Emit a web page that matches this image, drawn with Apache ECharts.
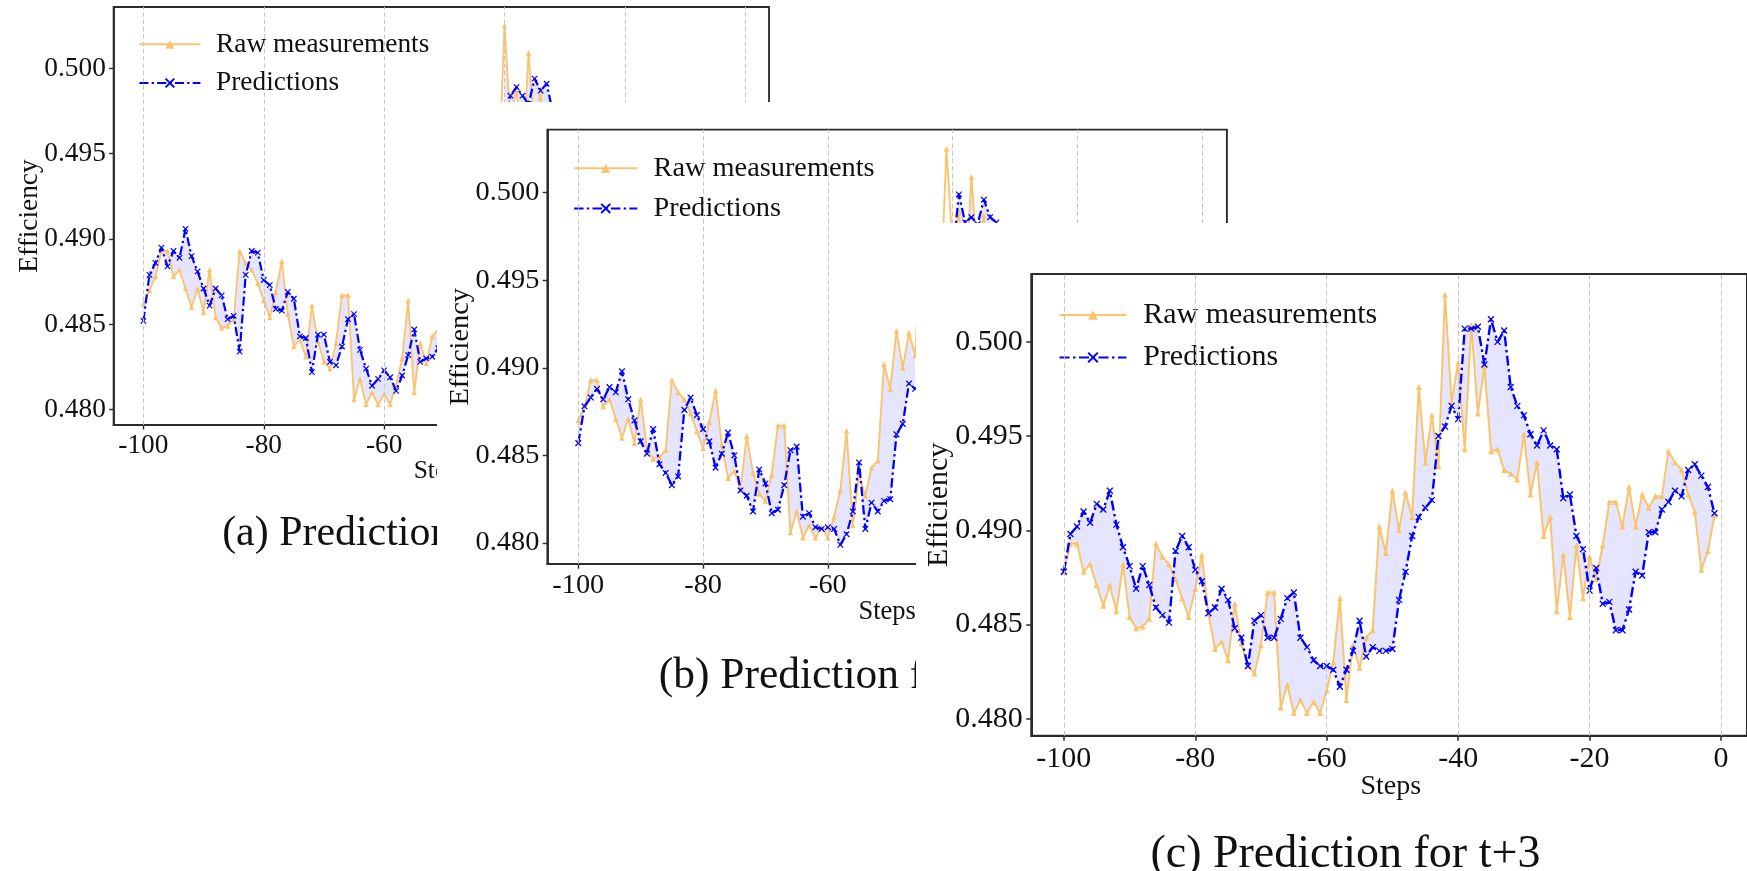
<!DOCTYPE html>
<html>
<head>
<meta charset="utf-8">
<script src="https://cdn.jsdelivr.net/npm/echarts@6/dist/echarts.min.js"></script>
<style>
  html, body { margin: 0; padding: 0; background: #fff; }
  body { width: 1747px; height: 871px; position: relative; overflow: hidden; }
  .panel { position: absolute; background: #fff; }
</style>
</head>
<body>
<div id="pa" class="panel" style="left:0;top:0;width:1747px;height:871px"></div>
<div id="pb" class="panel" style="left:437px;top:102px;width:1310px;height:769px"></div>
<div id="pc" class="panel" style="left:916px;top:223px;width:831px;height:648px"></div>
<script>
// x positions (steps before now)
const steps = [-100, -99, -98, -97, -96, -95, -94, -93, -92, -91, -90, -89, -88, -87, -86, -85, -84, -83, -82, -81,
  -80, -79, -78, -77, -76, -75, -74, -73, -72, -71, -70, -69, -68, -67, -66, -65, -64, -63, -62, -61,
  -60, -59, -58, -57, -56, -55, -54, -53, -52, -51, -50, -49, -48, -47, -46, -45, -44, -43, -42, -41,
  -40, -39, -38, -37, -36, -35, -34, -33, -32, -31, -30, -29, -28, -27, -26, -25, -24, -23, -22, -21,
  -20, -19, -18, -17, -16, -15, -14, -13, -12, -11, -10, -9, -8, -7, -6, -5, -4, -3, -2, -1];
const xTicks = [-100, -80, -60, -40, -20, 0];
const yTicks = [0.480, 0.485, 0.490, 0.495, 0.500];

// raw series, two steps longer: panel a shows [0..99], b [1..100], c [2..101]
const rawMeasurements = [0.4862, 0.4870,
  0.4878, 0.4893, 0.4893, 0.4878, 0.4882, 0.4871, 0.4860, 0.4871, 0.4857, 0.4882,
  0.4854, 0.4848, 0.4849, 0.4853, 0.4893, 0.4886, 0.4882, 0.4874, 0.4864, 0.4854,
  0.4869, 0.4887, 0.4856, 0.4837, 0.4841, 0.4831, 0.4861, 0.4840, 0.4828, 0.4824,
  0.4839, 0.4867, 0.4867, 0.4806, 0.4818, 0.4803, 0.4810, 0.4803, 0.4809, 0.4803,
  0.4815, 0.4830, 0.4864, 0.4810, 0.4839, 0.4827, 0.4843, 0.4847, 0.4902, 0.4888,
  0.4921, 0.4900, 0.4920, 0.4907, 0.4976, 0.4936, 0.4961, 0.4934, 0.5025, 0.4968,
  0.4989, 0.4943, 0.5009, 0.4962, 0.4987, 0.4942, 0.4943, 0.4932, 0.4930, 0.4927,
  0.4951, 0.4919, 0.4936, 0.4897, 0.4907, 0.4857, 0.4887, 0.4854, 0.4892, 0.4864,
  0.4886, 0.4874, 0.4892, 0.4915, 0.4915, 0.4902, 0.4923, 0.4902, 0.4919, 0.4912,
  0.4918, 0.4918, 0.4942, 0.4936, 0.4932, 0.4919, 0.4910, 0.4879, 0.4889, 0.4908];

// predictions; null where the panel is hidden under the next one
const predT1 = [0.4852, 0.4879, 0.4886, 0.4895, 0.4884, 0.4893, 0.4889, 0.4906, 0.4890, 0.4881,
  0.4871, 0.4861, 0.4871, 0.4867, 0.4853, 0.4855, 0.4834, 0.4879, 0.4893, 0.4892,
  0.4876, 0.4873, 0.4859, 0.4858, 0.4869, 0.4865, 0.4843, 0.4842, 0.4822, 0.4844,
  0.4844, 0.4828, 0.4826, 0.4837, 0.4853, 0.4856, 0.4835, 0.4824, 0.4814, 0.4818,
  0.4823, 0.4819, 0.4811, 0.4820, 0.4832, 0.4847, 0.4828, 0.4830, 0.4831, 0.4836,
  null, null, null, null, null, null, null, null, null, null,
  0.4965, 0.4984, 0.4989, 0.4984, 0.4979, 0.4994, 0.4987, 0.4991, 0.4975, null,
  null, null, null, null, null, null, null, null, null, null,
  null, null, null, null, null, null, null, null, null, null,
  null, null, null, null, null, null, null, null, null, null];
const predT2 = [0.4857, 0.4878, 0.4883, 0.4888, 0.4882, 0.4889, 0.4886, 0.4898, 0.4882, 0.4870,
  0.4858, 0.4851, 0.4865, 0.4845, 0.4840, 0.4833, 0.4838, 0.4876, 0.4883, 0.4873,
  0.4865, 0.4858, 0.4843, 0.4851, 0.4863, 0.4850, 0.4830, 0.4827, 0.4818, 0.4842,
  0.4834, 0.4817, 0.4819, 0.4833, 0.4853, 0.4855, 0.4815, 0.4817, 0.4809, 0.4808,
  0.4809, 0.4808, 0.4799, 0.4805, 0.4818, 0.4846, 0.4808, 0.4823, 0.4818, 0.4824,
  0.4825, 0.4862, 0.4868, 0.4891, 0.4888, null, null, null, null, null,
  0.4965, 0.4999, 0.4983, 0.4986, 0.4982, 0.4996, 0.4986, 0.4983, 0.4970, null,
  null, null, null, null, null, null, null, null, null, null,
  null, null, null, null, null, null, null, null, null, null,
  null, null, null, null, null, null, null, null, null, null];
const predT3 = [0.4878, 0.4898, 0.4902, 0.4910, 0.4904, 0.4914, 0.4911, 0.4921, 0.4903, 0.4891,
  0.4881, 0.4869, 0.4881, 0.4871, 0.4859, 0.4855, 0.4851, 0.4889, 0.4897, 0.4891,
  0.4879, 0.4873, 0.4856, 0.4859, 0.4869, 0.4863, 0.4848, 0.4843, 0.4828, 0.4852,
  0.4855, 0.4843, 0.4843, 0.4853, 0.4864, 0.4867, 0.4843, 0.4838, 0.4831, 0.4828,
  0.4828, 0.4826, 0.4817, 0.4826, 0.4836, 0.4852, 0.4833, 0.4838, 0.4836, 0.4836,
  0.4837, 0.4863, 0.4878, 0.4897, 0.4907, 0.4912, 0.4916, 0.4950, 0.4955, 0.4966,
  0.4959, 0.5007, 0.5007, 0.5008, 0.4988, 0.5012, 0.5000, 0.5006, 0.4976, 0.4966,
  0.4961, 0.4951, 0.4945, 0.4953, 0.4945, 0.4943, 0.4917, 0.4919, 0.4897, 0.4890,
  0.4868, 0.4880, 0.4861, 0.4862, 0.4847, 0.4847, 0.4858, 0.4878, 0.4876, 0.4899,
  0.4899, 0.4911, 0.4915, 0.4921, 0.4918, 0.4932, 0.4935, 0.4929, 0.4923, 0.4909];

const ORANGE = '#f9c46c';
const BLUE = '#0000ff';
const FILL = 'rgba(0,0,255,0.1)';
const SPINE = '#2b2b2b';
const GRIDC = '#c6c6c6';
const FONT = '"Liberation Serif", "DejaVu Serif", serif';
const X_MIN = -104.95, X_MAX = 3.95;

// absolute page coordinates of each panel and its axes box
const panels = [
  { id: 'pa', div: [0, 0], axes: [113.6, 7, 655.4, 418], k: 0.911, yMin: 0.4791, yMax: 0.5036,
    raw: rawMeasurements.slice(0, 100), pred: predT1, caption: '(a) Prediction for t+1' },
  { id: 'pb', div: [437, 102], axes: [547.4, 129.6, 679.5, 434.4], k: 0.945, yMin: 0.4788, yMax: 0.5036,
    raw: rawMeasurements.slice(1, 101), pred: predT2, caption: '(b) Prediction for t+2' },
  { id: 'pc', div: [916, 223], axes: [1031.3, 274, 719.1, 461.7], k: 1, yMin: 0.4791, yMax: 0.5036,
    raw: rawMeasurements.slice(2, 102), pred: predT3, caption: '(c) Prediction for t+3' }
];

function fillBetween(a, b) {
  return function (params, api) {
    const children = [];
    let run = [];
    const flush = () => {
      if (run.length > 1) {
        const top = run.map(i => api.coord([steps[i], a[i]]));
        const bot = run.slice().reverse().map(i => api.coord([steps[i], b[i]]));
        children.push({ type: 'polygon', shape: { points: top.concat(bot) }, style: { fill: FILL } });
      }
      run = [];
    };
    steps.forEach((s, i) => {
      if (a[i] == null || b[i] == null) flush(); else run.push(i);
    });
    flush();
    return { type: 'group', children: children };
  };
}

function buildPanel(p) {
  const chart = echarts.init(document.getElementById(p.id));
  const k = p.k;
  const [ax, ay, aw, ah] = p.axes;
  const gl = ax - p.div[0], gt = ay - p.div[1];
  const axisCommon = {
    axisLine: { show: true, onZero: false, lineStyle: { color: SPINE, width: 2 * k } },
    splitLine: { show: false }
  };
  const labelStyle = { fontSize: 30 * k, fontFamily: FONT, color: '#111' };

  chart.setOption({
    animation: false,
    grid: { left: gl, top: gt, width: aw, height: ah, show: true, borderColor: SPINE, borderWidth: 2 * k },
    xAxis: Object.assign({
      type: 'value', min: X_MIN, max: X_MAX,
      axisTick: { show: true, customValues: xTicks, length: 5 * k, lineStyle: { color: SPINE, width: 1.5 * k } },
      axisLabel: Object.assign({ customValues: xTicks, margin: 8 * k, formatter: v => String(v) }, labelStyle)
    }, axisCommon),
    yAxis: Object.assign({
      type: 'value', min: p.yMin, max: p.yMax,
      axisTick: { show: true, customValues: yTicks, length: 5 * k, lineStyle: { color: SPINE, width: 1.5 * k } },
      axisLabel: Object.assign({ customValues: yTicks, margin: 8.5 * k, formatter: v => v.toFixed(3) }, labelStyle)
    }, axisCommon),
    legend: {
      data: ['Raw measurements', 'Predictions'],
      orient: 'vertical',
      left: gl + 8.7 * k, top: gt + 16 * k,
      padding: [10 * k, 16 * k, 8 * k, 18.5 * k],
      backgroundColor: '#fff',
      itemWidth: 67 * k, itemHeight: 12 * k, itemGap: 12.4 * k,
      selectedMode: false,
      textStyle: { fontSize: 30 * k, fontFamily: FONT, color: '#111', lineHeight: 30 * k, padding: [0, 0, 0, 11.7 * k] }
    },
    graphic: [
      { type: 'text', x: gl + aw / 2, y: gt + ah + 51 * k, silent: true,
        style: { text: 'Steps', fontSize: 28 * k, fontFamily: FONT, fill: '#111', align: 'center', verticalAlign: 'middle' } },
      { type: 'text', x: gl - 92 * k, y: gt + ah / 2, rotation: Math.PI / 2, silent: true,
        style: { text: 'Efficiency', fontSize: 30 * k, fontFamily: FONT, fill: '#111', align: 'center', verticalAlign: 'middle' } },
      { type: 'text', x: gl + 314.1 * k, y: gt + ah + 119.5 * k, silent: true,
        style: { text: p.caption, fontSize: 46 * k, fontFamily: FONT, fill: '#111', align: 'center', verticalAlign: 'middle' } }
    ],
    series: [
      {
        type: 'line', data: [], silent: true, z: 1,
        markLine: {
          silent: true, symbol: ['none', 'none'], label: { show: false }, animation: false,
          lineStyle: { color: GRIDC, type: [5 * k, 3 * k], width: 1 },
          data: xTicks.map(v => ({ xAxis: v }))
        }
      },
      {
        type: 'custom', silent: true, z: 2,
        renderItem: fillBetween(p.raw, p.pred),
        data: [[steps[0], p.raw[0]]]
      },
      {
        type: 'line', name: 'Raw measurements', z: 3,
        data: steps.map((s, i) => [s, p.raw[i]]),
        symbol: 'triangle', symbolSize: 6 * k, showAllSymbol: true,
        itemStyle: { color: ORANGE },
        lineStyle: { color: ORANGE, width: 2 * k },
        emphasis: { disabled: true }
      },
      {
        type: 'line', name: 'Predictions', z: 4,
        data: steps.map((s, i) => [s, p.pred[i] == null ? '-' : p.pred[i]]),
        connectNulls: false,
        symbol: 'path://M0,0L10,10M10,0L0,10', symbolSize: 6 * k, showAllSymbol: true,
        itemStyle: { color: BLUE, borderColor: BLUE, borderWidth: 1.3 * k },
        lineStyle: { color: BLUE, width: 2.4 * k, type: [10 * k, 3.5 * k, 2.5 * k, 3.5 * k] },
        emphasis: { disabled: true }
      }
    ]
  });
}

panels.forEach(buildPanel);
</script>
</body>
</html>
